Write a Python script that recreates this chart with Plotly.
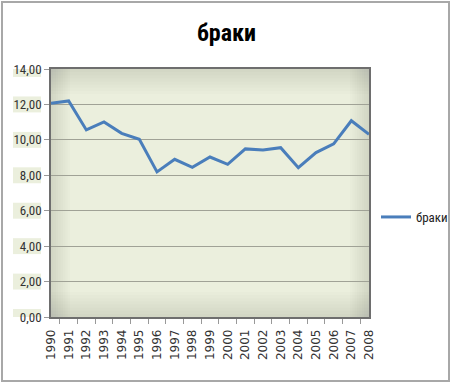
import plotly.graph_objects as go

years = [str(y) for y in range(1990, 2009)]
values = [12.07, 12.20, 10.56, 11.01, 10.37, 10.03, 8.19, 8.90, 8.45, 9.03,
          8.62, 9.49, 9.43, 9.56, 8.43, 9.28, 9.77, 11.08, 10.31]
series_name = "браки"
y_ticks = [0, 2, 4, 6, 8, 10, 12, 14]

W, H = 453, 384
L, R, T, B = 51, 369, 69, 317
pw, ph = R - L, B - T

fig = go.Figure()
fig.add_trace(go.Scatter(x=years, y=values, mode="lines", name=series_name,
                         line=dict(color="#4A7EBB", width=3)))

fig.update_layout(
    width=W, height=H,
    margin=dict(l=L, r=W - R, t=T, b=H - B, autoexpand=False),
    paper_bgcolor="white",
    plot_bgcolor="#EBEFDD",
    separators=", ",
    title=dict(text="<b>" + series_name + "</b>", x=0.5, xanchor="center",
               y=1 - 33 / H, yanchor="middle",
               font=dict(family="Liberation Sans Narrow, Roboto Condensed, Roboto", size=24, color="black")),
    showlegend=True,
    legend=dict(x=(376 - L) / pw, y=(B - 217) / ph, xanchor="left", yanchor="middle",
                font=dict(family="Liberation Sans Narrow, Roboto Condensed, Roboto", size=13, color="#222"),
                itemwidth=30, bgcolor="rgba(0,0,0,0)"),
    font=dict(family="Roboto", size=12, color="#333"),
)
fig.update_xaxes(type="category", tickangle=-90, tickson="boundaries",
                 ticks="outside", ticklen=5, tickcolor="#999", automargin=False,
                 ticklabelstandoff=6,
                 showline=True, linecolor="#6E6E6E", linewidth=1.5, mirror=True,
                 showgrid=False,
                 tickfont=dict(family="DejaVu Sans", size=12, color="#333"))
fig.update_yaxes(range=[0, 14], tickvals=y_ticks, tickformat=".2f",
                 ticks="outside", ticklen=5, tickcolor="#999", automargin=False,
                 showline=True, linecolor="#6E6E6E", linewidth=1.5, mirror=True,
                 showgrid=True, gridcolor="#A0A296", gridwidth=1,
                 zeroline=False,
                 tickfont=dict(family="Liberation Sans Narrow, Roboto Condensed, Roboto", size=13, color="#333"))

# soft darker shading toward plot-area edges (approximate gradient)
steps = 8
for i in range(steps):
    a = 0.017
    fx = 0.06 * (steps - i) / steps
    fy = 0.10 * (steps - i) / steps
    fig.add_shape(type="rect", xref="paper", yref="paper", x0=0, x1=fx, y0=0, y1=1,
                  line=dict(width=0), fillcolor=f"rgba(90,95,70,{a})", layer="below")
    fig.add_shape(type="rect", xref="paper", yref="paper", x0=1 - fx, x1=1, y0=0, y1=1,
                  line=dict(width=0), fillcolor=f"rgba(90,95,70,{a})", layer="below")
    fig.add_shape(type="rect", xref="paper", yref="paper", x0=0, x1=1, y0=1 - fy, y1=1,
                  line=dict(width=0), fillcolor=f"rgba(90,95,70,{a})", layer="below")
    fig.add_shape(type="rect", xref="paper", yref="paper", x0=0, x1=1, y0=0, y1=fy,
                  line=dict(width=0), fillcolor=f"rgba(90,95,70,{a})", layer="below")

# light highlight behind y tick labels
for v in y_ticks:
    fig.add_shape(type="rect", xref="paper", yref="y",
                  x0=(13 - L) / pw, x1=(41 - L) / pw, y0=v - 0.45, y1=v + 0.45,
                  line=dict(width=0), fillcolor="#EBEFDD", layer="below")

# outer chart frame
fig.add_shape(type="rect", xref="paper", yref="paper",
              x0=(2 - L) / pw, x1=(449 - L) / pw, y0=(B - 381) / ph, y1=(B - 2) / ph,
              line=dict(color="#A8A8A8", width=2), fillcolor="rgba(0,0,0,0)", layer="below")
fig.write_html("out.html", config={"displayModeBar": False},
               post_script="document.body.style.margin='0';")
